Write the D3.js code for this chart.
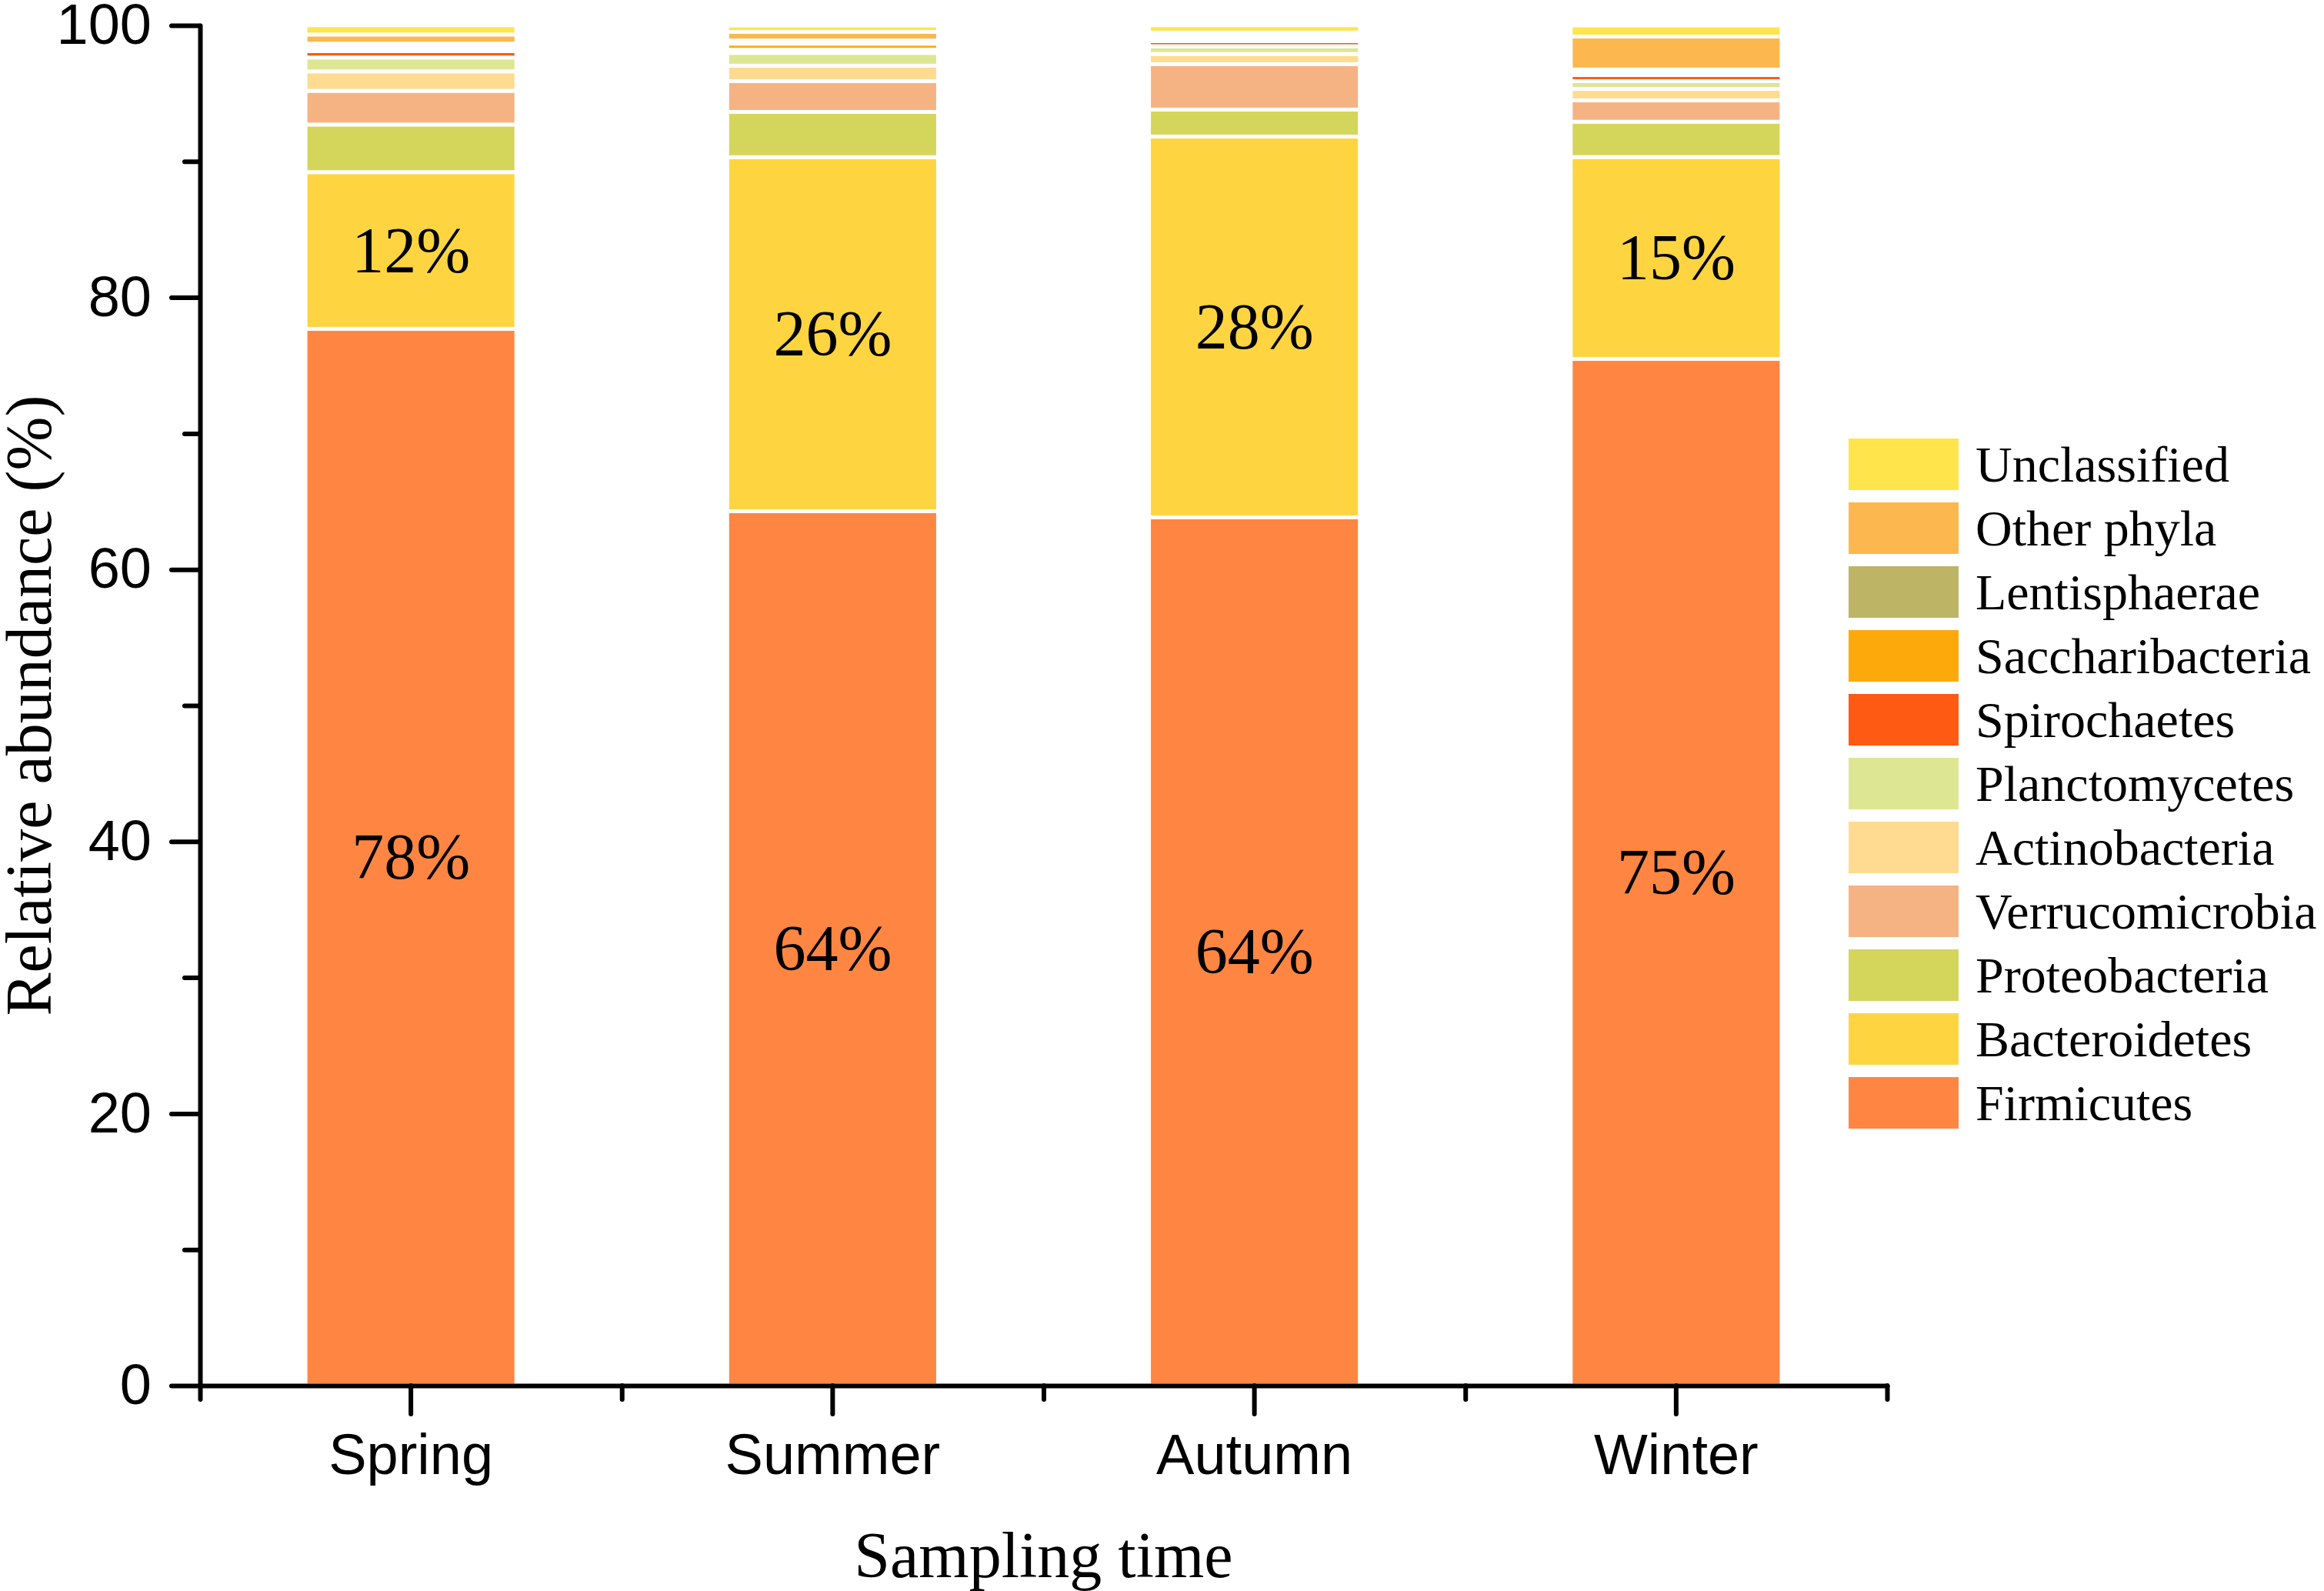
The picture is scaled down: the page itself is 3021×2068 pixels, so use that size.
<!doctype html>
<html>
<head>
<meta charset="utf-8">
<script src="https://cdnjs.cloudflare.com/ajax/libs/d3/7.8.5/d3.min.js"></script>
<style>
  body { margin: 0; background: #fff; }
  .axis path, .axis line { stroke: #000; stroke-width: 6; stroke-linecap: round; }
  .axis text { font-family: "Liberation Sans", Arial, sans-serif; font-size: 74px; fill: #000; }
  .title { font-family: "Liberation Serif", "Times New Roman", serif; font-size: 84px; fill: #000; }
  .legend text { font-family: "Liberation Serif", "Times New Roman", serif; font-size: 66px; fill: #000; }
  .pct { font-family: "Liberation Serif", "Times New Roman", serif; font-size: 84px; fill: #000; }
</style>
</head>
<body>
<svg id="chart" width="3021" height="2068"></svg>
<script>
// seasons and phyla (bottom of stack first)
var seasons = ["Spring", "Summer", "Autumn", "Winter"];
var phyla = ["Firmicutes", "Bacteroidetes", "Proteobacteria", "Verrucomicrobia", "Actinobacteria",
             "Planctomycetes", "Spirochaetes", "Saccharibacteria", "Lentisphaerae", "Other phyla", "Unclassified"];
var colors = ["#fe8642", "#fed541", "#d4d55b", "#f5b383", "#fedb90",
              "#dde693", "#fe5a13", "#fea90b", "#bdb466", "#fdb74f", "#ffe44c"];

// relative abundance (%) per season, same order as phyla
var spring = [77.69, 11.52, 3.50, 2.48, 1.43, 1.02, 0.48, 0.25, 0.29, 0.67, 0.68];
var summer = [64.28, 26.03, 3.33, 2.26, 1.14, 0.94, 0.23, 0.45, 0.23, 0.63, 0.47];
var autumn = [63.83, 28.00, 1.98, 3.34, 0.75, 0.57, 0.38, 0.20, 0.20, 0.22, 0.54];
var winter = [75.48, 14.84, 2.60, 1.57, 0.84, 0.57, 0.45, 0.21, 0.20, 2.42, 0.82];

var yTicks = [0, 20, 40, 60, 80, 100];
var yMinor = [10, 30, 50, 70, 90];
var labelled = ["Firmicutes", "Bacteroidetes"];

var values = [spring, summer, autumn, winter];
var table = seasons.map(function(s, i) {
  var row = { season: s };
  phyla.forEach(function(p, j) { row[p] = values[i][j]; });
  return row;
});

var svg = d3.select("#chart");
var plotLeft = 260, plotRight = 2453, plotTop = 33, plotBottom = 1801;

var x = d3.scaleBand().domain(seasons).range([plotLeft, plotRight]).paddingInner(0.5).paddingOuter(0.25);
var y = d3.scaleLinear().domain([0, 100]).range([plotBottom, plotTop]);
var color = d3.scaleOrdinal().domain(phyla).range(colors);

var stack = d3.stack().keys(phyla)(table);

var layers = svg.append("g").selectAll("g")
  .data(stack)
  .enter().append("g")
    .attr("fill", d => color(d.key));

layers.selectAll("rect")
  .data(d => d)
  .enter().append("rect")
    .attr("x", d => x(d.data.season))
    .attr("width", x.bandwidth())
    .attr("y", d => y(d[1]))
    .attr("height", d => y(d[0]) - y(d[1]))
    .attr("stroke", "#fff")
    .attr("stroke-width", 5);

// percentage labels on the two big phyla
layers.filter(d => labelled.indexOf(d.key) >= 0)
  .selectAll("text")
  .data(d => d)
  .enter().append("text")
    .attr("class", "pct")
    .attr("text-anchor", "middle")
    .attr("x", d => x(d.data.season) + x.bandwidth() / 2)
    .attr("y", d => (y(d[0]) + y(d[1])) / 2 + 28)
    .text(d => d3.format(".0f")(d[1] - d[0]) + "%");

// y axis
var yAxis = d3.axisLeft(y).tickValues(yTicks).tickSize(37).tickPadding(26).tickSizeOuter(0);
var gy = svg.append("g").attr("class", "axis").attr("transform", "translate(" + plotLeft + ",0)").call(yAxis);
gy.selectAll("text").attr("dy", "0.32em");
svg.append("g").attr("class", "axis").attr("transform", "translate(" + plotLeft + ",0)")
  .call(d3.axisLeft(y).tickValues(yMinor).tickSize(20).tickFormat("").tickSizeOuter(0))
  .select(".domain").remove();

// x axis: long ticks at seasons, short ticks between them
var xAxis = d3.axisBottom(x).tickSize(37).tickPadding(26).tickSizeOuter(0);
var gx = svg.append("g").attr("class", "axis").attr("transform", "translate(0," + plotBottom + ")").call(xAxis);
gx.selectAll("text").attr("dy", "0.7em");
var edges = seasons.map(s => x(s) - x.step() * x.paddingInner() / 2).concat([plotRight]);
edges[0] = plotLeft;
var xEdge = d3.scaleLinear().domain([plotLeft, plotRight]).range([plotLeft, plotRight]);
svg.append("g").attr("class", "axis").attr("transform", "translate(0," + plotBottom + ")")
  .call(d3.axisBottom(xEdge).tickValues(edges).tickSize(18).tickFormat("").tickSizeOuter(0))
  .select(".domain").remove();

// axis titles
svg.append("text").attr("class", "title")
  .attr("text-anchor", "middle")
  .attr("x", (plotLeft + plotRight) / 2).attr("y", 2050)
  .text("Sampling time");
svg.append("text").attr("class", "title")
  .attr("text-anchor", "middle")
  .attr("transform", "translate(66," + (plotTop + plotBottom) / 2 + ") rotate(-90)")
  .text("Relative abundance (%)");

// legend, Unclassified on top
var legendKeys = phyla.slice().reverse();
var ly = d3.scaleBand().domain(legendKeys).range([570, 570 + 83 * legendKeys.length]);
var legend = svg.append("g").attr("class", "legend");
legend.selectAll("rect")
  .data(legendKeys)
  .enter().append("rect")
    .attr("x", 2403).attr("y", d => ly(d))
    .attr("width", 143).attr("height", 67)
    .attr("fill", d => color(d));
legend.selectAll("text")
  .data(legendKeys)
  .enter().append("text")
    .attr("x", 2568).attr("y", d => ly(d) + 33.5 + 22)
    .text(d => d);
</script>
</body>
</html>
